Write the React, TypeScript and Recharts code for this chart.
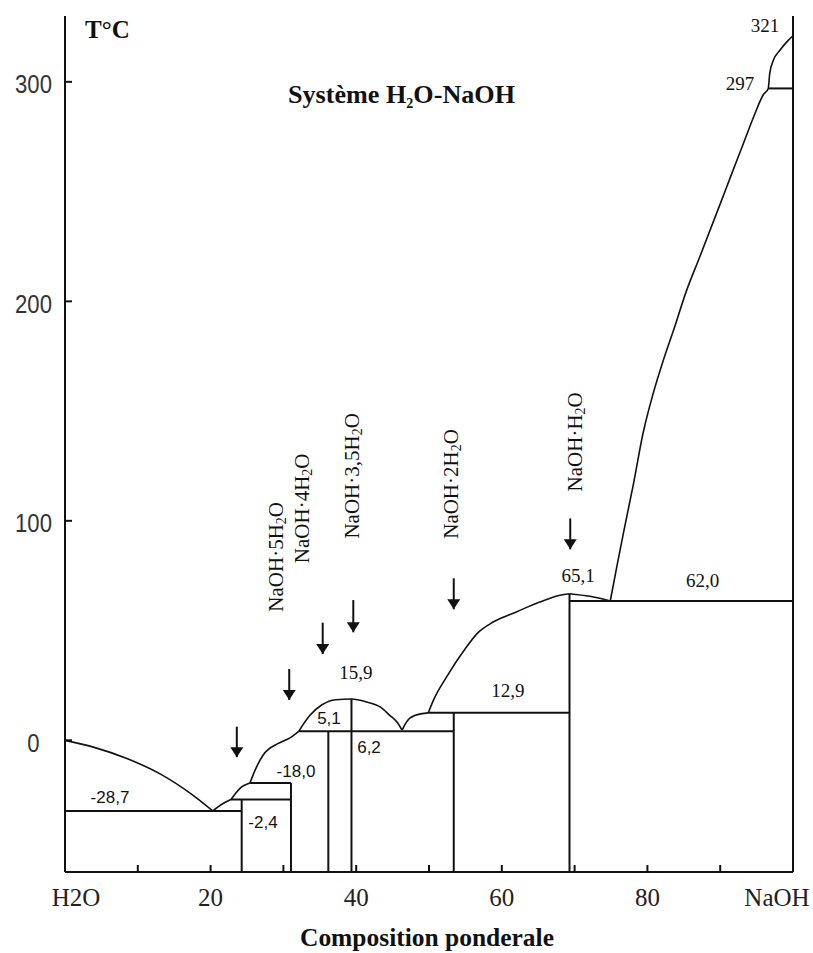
import { LineChart, Line, XAxis, YAxis, ReferenceLine, ReferenceDot } from "recharts"

const INK = "#111"
const SERIF = "'Liberation Serif', 'Times New Roman', serif"
const SANS = "'Liberation Sans', Arial, sans-serif"

// liquidus branches (x = % NaOH by weight, y = °C)
const iceBranch = [
  { x: 0, y: 0 }, { x: 3.9, y: -3.1 }, { x: 8.5, y: -8.3 }, { x: 13.0, y: -15.2 },
  { x: 17.6, y: -25.1 }, { x: 20.3, y: -32.2 },
]
const branch7 = [{ x: 20.3, y: -32.2 }, { x: 21.7, y: -28.8 }, { x: 22.8, y: -27.0 }]
const branch5 = [{ x: 22.8, y: -27.0 }, { x: 24.0, y: -22.0 }, { x: 25.4, y: -19.5 }]
const branch4 = [
  { x: 25.4, y: -19.5 }, { x: 26.1, y: -13.7 }, { x: 27.2, y: -6.8 }, { x: 29.3, y: -1.4 },
  { x: 30.9, y: 1.1 }, { x: 32.1, y: 4.1 },
]
const branch35 = [
  { x: 32.1, y: 4.1 }, { x: 33.65, y: 11.4 }, { x: 35.3, y: 16.2 }, { x: 37.2, y: 18.5 },
  { x: 39.35, y: 18.8 }, { x: 41.4, y: 17.5 }, { x: 43.3, y: 15.2 }, { x: 44.6, y: 11.4 },
  { x: 45.6, y: 8.3 }, { x: 46.3, y: 4.6 },
]
const branch2a = [{ x: 46.3, y: 4.6 }, { x: 46.9, y: 8.3 }, { x: 48.1, y: 11.4 }, { x: 49.9, y: 12.5 }]
const branch2 = [
  { x: 49.9, y: 12.5 }, { x: 50.6, y: 18.2 }, { x: 52.4, y: 28.8 }, { x: 55.0, y: 41.8 },
  { x: 56.6, y: 48.6 }, { x: 58.8, y: 53.9 }, { x: 62.0, y: 58.5 }, { x: 65.2, y: 63.0 },
  { x: 68.0, y: 66.1 }, { x: 69.3, y: 66.8 },
]
const branch1 = [{ x: 69.3, y: 66.8 }, { x: 72.1, y: 65.6 }, { x: 74.9, y: 63.5 }]
const branchNaOH = [
  { x: 74.9, y: 63.5 }, { x: 75.8, y: 79.1 }, { x: 76.7, y: 94.3 }, { x: 78.1, y: 117.1 },
  { x: 79.4, y: 139.9 }, { x: 80.8, y: 158.1 }, { x: 82.2, y: 173.3 }, { x: 83.6, y: 186.9 },
  { x: 85.4, y: 205.1 }, { x: 87.2, y: 220.3 }, { x: 90.2, y: 246.1 }, { x: 91.6, y: 258.3 },
  { x: 93.2, y: 272.0 }, { x: 94.6, y: 284.1 }, { x: 95.9, y: 294.0 }, { x: 96.6, y: 297.0 },
  { x: 96.8, y: 303.7 }, { x: 97.3, y: 309.8 }, { x: 98.2, y: 314.4 }, { x: 99.35, y: 318.9 },
  { x: 100, y: 321 },
]
const branches = [iceBranch, branch7, branch5, branch4, branch35, branch2a, branch2, branch1, branchNaOH]

// horizontal invariant lines
const isoFrom = [0, 22.8, 25.4, 32.1, 49.9, 69.3, 96.6]
const isoTo = [24.27, 31.04, 31.04, 53.4, 69.3, 100, 100]
const isoTemp = [-32.2, -27.0, -19.5, 4.1, 12.5, 63.5, 297]

// hydrate composition lines (drawn down to the axis)
const hydrateX = [24.27, 31.04, 36.17, 39.35, 53.4, 69.3]
const hydrateTop = [-27.0, -19.5, 4.1, 18.8, 12.5, 66.8]

// arrows pointing at the hydrates
const arrowX = [23.6, 30.8, 35.4, 39.6, 53.4, 69.4]
const arrowTop = [6.2, 32.5, 53.6, 63.9, 73.8, 101.1]
const arrowTip = [-7.7, 18.4, 39.3, 49.2, 59.7, 87.0]

const hydrateNames = ["NaOH·5H₂O", "NaOH·4H₂O", "NaOH·3,5H₂O", "NaOH·2H₂O", "NaOH·H₂O"]
const hydrateNameX = [28.98, 32.51, 39.38, 52.98, 70.05]
const hydrateNameY = [83.6, 105.7, 120.5, 116.8, 136.0]

const coldLabels = ["-28,7", "-2,4", "-18,0", "5,1", "6,2"]
const coldLabelX = [6.18, 27.2, 31.73, 36.26, 41.76]
const coldLabelY = [-28.6, -40.0, -16.7, 7.4, -5.6]

const hotLabels = ["15,9", "12,9", "65,1", "62,0", "321", "297"]
const hotLabelX = [39.97, 60.85, 70.47, 87.57, 96.15, 92.72]
const hotLabelY = [27.9, 19.7, 72.3, 69.8, 322.8, 296.3]

const xMinorTicks = [10, 20, 30, 40, 50, 60, 70, 80, 90]
const xLabelValues = [0, 20, 40, 60, 80, 100]
const xTickLabels = ["H2O", "20", "40", "60", "80", "NaOH"]
const yTicks = [0, 100, 200, 300]

const withSub = (s: string) =>
  s.split("₂").flatMap((part, i) =>
    i === 0
      ? [part]
      : [
          <tspan key={"s" + i} fontSize={14} dy={5}>2</tspan>,
          <tspan key={"r" + i} dy={-5}>{part}</tspan>,
        ]
  )

const XTick = ({ x, y, payload }: any) => {
  const v = payload.value
  const idx = xLabelValues.indexOf(v)
  const dx = v === 0 ? 11 : v === 100 ? -16 : 0
  return (
    <g>
      {xMinorTicks.includes(v) && <line x1={x} x2={x} y1={y} y2={y - 7} stroke={INK} strokeWidth={2} />}
      {idx >= 0 && (
        <text x={x + dx} y={y + 34} textAnchor="middle" fontFamily={SERIF} fontSize={25} fill="#222">
          {xTickLabels[idx]}
        </text>
      )}
    </g>
  )
}

const YTick = ({ x, y, payload }: any) => {
  const s = String(payload.value)
  return (
    <g>
      <line x1={x} x2={x + 7} y1={y} y2={y} stroke={INK} strokeWidth={2} />
      <text
        x={x - 31.5}
        y={y + 11.5}
        textAnchor="middle"
        fontFamily={SANS}
        fontSize={25}
        fill="#333"
        textLength={s.length * 12.3}
        lengthAdjust="spacingAndGlyphs"
      >
        {s}
      </text>
    </g>
  )
}

const axisTitle = (props: any) => {
  const vb = props.viewBox || { x: 65, y: 872, width: 728 }
  return (
    <text
      x={vb.x + vb.width / 2 - 2}
      y={vb.y + 74}
      textAnchor="middle"
      fontFamily={SERIF}
      fontWeight="bold"
      fontSize={25}
      fill="#111"
      textLength={254}
      lengthAdjust="spacingAndGlyphs"
    >
      Composition ponderale
    </text>
  )
}

export default function App() {
  return (
    <div style={{ position: "absolute", left: 0, top: 0, width: 813, height: 953, background: "#fff" }}>
      <LineChart width={813} height={953} margin={{ top: 16, right: 20, bottom: 0, left: 0 }}>
        <XAxis
          type="number"
          dataKey="x"
          domain={[0, 100]}
          ticks={[0, 10, 20, 30, 40, 50, 60, 70, 80, 90, 100]}
          allowDataOverflow
          height={81}
          tickSize={0}
          tickMargin={0}
          tickLine={false}
          axisLine={{ stroke: INK, strokeWidth: 2 }}
          tick={<XTick />}
          interval={0}
          label={axisTitle}
        />
        <YAxis
          type="number"
          domain={[-60, 330]}
          ticks={yTicks}
          allowDataOverflow
          width={65}
          tickSize={0}
          tickMargin={0}
          tickLine={false}
          axisLine={{ stroke: INK, strokeWidth: 2 }}
          tick={<YTick />}
          interval={0}
        />

        <ReferenceLine x={100} stroke={INK} strokeWidth={2} />

        {isoTemp.map((t, i) => (
          <ReferenceLine
            key={"iso" + i}
            segment={[{ x: isoFrom[i], y: t }, { x: isoTo[i], y: t }]}
            stroke={INK}
            strokeWidth={2}
          />
        ))}
        {hydrateX.map((hx, i) => (
          <ReferenceLine
            key={"hyd" + i}
            segment={[{ x: hx, y: hydrateTop[i] }, { x: hx, y: -60 }]}
            stroke={INK}
            strokeWidth={2}
          />
        ))}

        {branches.map((b, i) => (
          <Line
            key={"br" + i}
            data={b}
            dataKey="y"
            type="monotone"
            stroke={INK}
            strokeWidth={1.6}
            dot={false}
            activeDot={false}
            isAnimationActive={false}
          />
        ))}

        {arrowX.map((ax, i) => (
          <ReferenceLine
            key={"arl" + i}
            segment={[{ x: ax, y: arrowTop[i] }, { x: ax, y: arrowTip[i] }]}
            stroke={INK}
            strokeWidth={2}
          />
        ))}
        {arrowX.map((ax, i) => (
          <ReferenceDot
            key={"arh" + i}
            x={ax}
            y={arrowTip[i]}
            r={1}
            shape={(p: any) => (
              <path d={`M${p.cx - 6.5},${p.cy - 10} L${p.cx + 6.5},${p.cy - 10} L${p.cx},${p.cy} Z`} fill={INK} />
            )}
          />
        ))}

        {hydrateNames.map((name, i) => (
          <ReferenceDot
            key={"hn" + i}
            x={hydrateNameX[i]}
            y={hydrateNameY[i]}
            r={1}
            shape={(p: any) => (
              <text
                x={p.cx}
                y={p.cy}
                transform={`rotate(-90 ${p.cx} ${p.cy})`}
                textAnchor="middle"
                dominantBaseline="central"
                fontFamily={SERIF}
                fontSize={21}
                fill="#111"
              >
                {withSub(name)}
              </text>
            )}
          />
        ))}

        {coldLabels.map((s, i) => (
          <ReferenceDot
            key={"cl" + i}
            x={coldLabelX[i]}
            y={coldLabelY[i]}
            r={1}
            shape={(p: any) => (
              <text x={p.cx} y={p.cy} textAnchor="middle" fontFamily={SANS} fontSize={17} fill="#111">
                {s}
              </text>
            )}
          />
        ))}
        {hotLabels.map((s, i) => (
          <ReferenceDot
            key={"hl" + i}
            x={hotLabelX[i]}
            y={hotLabelY[i]}
            r={1}
            shape={(p: any) => (
              <text x={p.cx} y={p.cy} textAnchor="middle" fontFamily={SERIF} fontSize={19} fill="#111">
                {s}
              </text>
            )}
          />
        ))}

        <ReferenceDot
          x={30.63}
          y={290.3}
          r={1}
          shape={(p: any) => (
            <text
              x={p.cx}
              y={p.cy}
              fontFamily={SERIF}
              fontWeight="bold"
              fontSize={26}
              fill="#111"
              textLength={227}
              lengthAdjust="spacingAndGlyphs"
            >
              {withSub("Système H₂O-NaOH")}
            </text>
          )}
        />
        <ReferenceDot
          x={2.75}
          y={319.9}
          r={1}
          shape={(p: any) => (
            <text x={p.cx} y={p.cy} fontFamily={SERIF} fontWeight="bold" fontSize={25} fill="#111">
              T°C
            </text>
          )}
        />
      </LineChart>
    </div>
  )
}
